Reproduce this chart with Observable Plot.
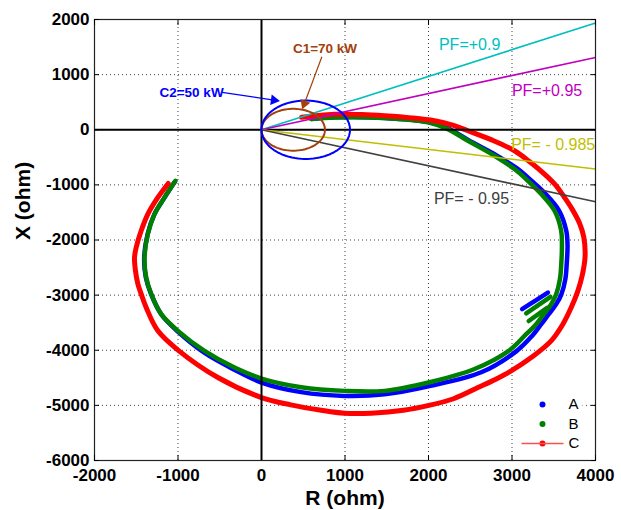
<!DOCTYPE html>
<html><head><meta charset="utf-8">
<script src="https://cdn.jsdelivr.net/npm/d3@7"></script>
<script src="https://cdn.jsdelivr.net/npm/@observablehq/plot@0.6"></script>
<style>html,body{margin:0;padding:0;background:#fff}</style>
</head><body><div id="chart"></div>
<script>
// ---- data ----
const xTicks = [-2000, -1000, 0, 1000, 2000, 3000, 4000];
const yTicks = [2000, 1000, 0, -1000, -2000, -3000, -4000, -5000, -6000];
const seriesNames = ["A", "B", "C"];
const seriesColors = ["#0000ff", "#008000", "#ff0000"];

// Series A (blue)
const aR = [-1040,-1165,-1285,-1365,-1405,-1385,-1320,-1195,-995,-690,-330,0,475,994,1473,2012,2631,3050,3240,3350,3440,3530,3590,3640,3655,3665,3650,3565,3400,3230,3060,2810,2480,2240,2000,1473,874,600];
const aX = [-950,-1240,-1540,-1900,-2320,-2680,-2990,-3360,-3670,-4040,-4350,-4586,-4760,-4828,-4800,-4650,-4400,-4020,-3740,-3527,-3345,-3164,-2990,-2700,-2437,-2100,-1833,-1470,-1160,-920,-700,-460,-190,20,140,215,225,195];
const aSpurR = [3121, 3300, 3430];
const aSpurX = [-3254, -3080, -2953];
// Series B (green)
const bR = [-1030,-1162,-1281,-1361,-1401,-1381,-1321,-1201,-1001,-683,-323,0,475,994,1473,2012,2551,2970,3170,3290,3380,3470,3530,3575,3590,3598,3589,3509,3350,3190,3030,2790,2472,2232,1993,1473,874,595];
const bX = [-926,-1228,-1530,-1893,-2317,-2680,-2978,-3345,-3648,-4011,-4314,-4513,-4670,-4737,-4737,-4580,-4340,-4000,-3708,-3527,-3345,-3164,-2980,-2700,-2437,-2100,-1833,-1470,-1167,-926,-713,-472,-200,12,133,212,223,194];
const bSpur1R = [3170, 3460], bSpur1X = [-3330, -3030];
const bSpur2R = [3200, 3420], bSpur2X = [-3470, -3230];
// Series C (red)
const cR = [-1117,-1241,-1361,-1441,-1501,-1521,-1510,-1480,-1441,-1381,-1241,-989,-522,0,350,715,994,1313,1700,2016,2300,2592,2800,2990,3230,3469,3609,3709,3789,3840,3875,3860,3810,3720,3629,3520,3389,3220,3030,2750,2472,2300,2072,1800,1473,1200,874,635,480];
const cX = [-974,-1228,-1530,-1833,-2136,-2320,-2550,-2800,-2978,-3225,-3648,-4011,-4495,-4858,-4990,-5088,-5142,-5142,-5090,-4996,-4880,-4677,-4530,-4374,-4132,-3829,-3527,-3225,-2922,-2650,-2300,-1950,-1700,-1440,-1229,-1000,-804,-590,-381,-180,-18,80,163,215,254,275,280,250,225];

// Power-factor lines (from origin to R = 4000)
const pfLabels = ["PF=+0.9", "PF=+0.95", "PF= - 0.985", "PF= - 0.95"];
const pfColors = ["#00bfbf", "#bf00bf", "#bfbf00", "#404040"];
const pfEndR = [4000, 4000, 4000, 4000];
const pfEndX = [1937, 1312, -713, -1307];

// Constant-power circles (centre on R axis, passing through origin)
const circleLabels = ["C1=70 kW", "C2=50 kW"];
const circleColors = ["#a3400c", "#0000ff"];
const circleCenterR = [380, 530];
const circleRadius = [380, 530];

// ---- build tables ----
function toRows(R, X, seg) { return R.map((r, i) => ({r, x: X[i], seg})); }
const aRows = [...toRows(aR, aX, "main"), ...toRows(aSpurR, aSpurX, "spur")];
const bRows = [...toRows(bR, bX, "main"), ...toRows(bSpur1R, bSpur1X, "s1"), ...toRows(bSpur2R, bSpur2X, "s2")];
const cRows = toRows(cR, cX, "main");
const pfRows = pfLabels.map((l, i) => ({label: l, color: pfColors[i], r0: 0, x0: 0, r1: pfEndR[i], x1: pfEndX[i]}));
const circleRows = circleLabels.flatMap((l, i) =>
  d3.range(0, 361, 4).map(a => ({
    name: l,
    r: circleCenterR[i] + circleRadius[i] * Math.cos(a * Math.PI / 180),
    x: circleRadius[i] * Math.sin(a * Math.PI / 180)
  })));

const lineSymbol = {draw(ctx) { ctx.moveTo(-21, 0); ctx.lineTo(21, 0); }};
const font = "'Liberation Sans', Arial, sans-serif";

const chart = Plot.plot({
  width: 621, height: 510,
  marginLeft: 94, marginRight: 26, marginTop: 19, marginBottom: 50,
  style: {fontFamily: font, background: "white", color: "black"},
  x: {domain: [-2000, 4000]},
  y: {domain: [-6000, 2000]},
  marks: [
    Plot.gridX(xTicks, {stroke: "#000", strokeOpacity: 0.75, strokeDasharray: "1,3"}),
    Plot.gridY(yTicks, {stroke: "#000", strokeOpacity: 0.75, strokeDasharray: "1,3"}),
    // legend background
    Plot.frame({fill: "white", stroke: "none", insetLeft: 419, insetRight: 13, insetTop: 374, insetBottom: 7}),
    // measured trajectories
    Plot.line(aRows, {x: "r", y: "x", z: "seg", stroke: seriesColors[0], strokeWidth: 4.5, curve: "catmull-rom"}),
    Plot.line(bRows, {x: "r", y: "x", z: "seg", stroke: seriesColors[1], strokeWidth: 4.5, curve: "catmull-rom"}),
    Plot.line(cRows, {x: "r", y: "x", z: "seg", stroke: seriesColors[2], strokeWidth: 5, curve: "catmull-rom"}),
    // axes through origin
    Plot.ruleX([0], {stroke: "#000", strokeWidth: 2}),
    Plot.ruleY([0], {stroke: "#000", strokeWidth: 2}),
    // PF lines
    ...pfRows.map(p => Plot.link([p], {x1: "r0", y1: "x0", x2: "r1", y2: "x1", stroke: p.color, strokeWidth: 1.6})),
    // circles
    ...circleLabels.map((l, i) => Plot.line(circleRows.filter(d => d.name === l), {x: "r", y: "x", stroke: circleColors[i], strokeWidth: 2})),
    // PF labels
    Plot.text([pfLabels[0]], {x: 2125, y: 1543, fill: pfColors[0], fontSize: 16, textAnchor: "start"}),
    Plot.text([pfLabels[1]], {x: 2999, y: 708, fill: pfColors[1], fontSize: 16, textAnchor: "start"}),
    Plot.text([pfLabels[2]], {x: 2990, y: -272, fill: pfColors[2], fontSize: 16, textAnchor: "start"}),
    Plot.text([pfLabels[3]], {x: 2065, y: -1258, fill: pfColors[3], fontSize: 16, textAnchor: "start"}),
    // circle labels and arrows
    Plot.text([circleLabels[0]], {x: 376, y: 1465, fill: circleColors[0], fontSize: 13.5, fontWeight: "bold", textAnchor: "start"}),
    Plot.text([circleLabels[1]], {x: -1222, y: 677, fill: circleColors[1], fontSize: 13.5, fontWeight: "bold", textAnchor: "start"}),
    Plot.link([0], {x1: 723, y1: 1325, x2: 513, y2: 473, stroke: circleColors[0], strokeWidth: 1.2}),
    Plot.link([0], {x1: -471, y1: 677, x2: 149, y2: 537, stroke: circleColors[1], strokeWidth: 1.2}),
    Plot.dot([0], {x: 513, y: 473, symbol: "triangle2", r: 5, fill: circleColors[0], rotate: 200.5}),
    Plot.dot([0], {x: 149, y: 537, symbol: "triangle2", r: 5, fill: circleColors[1], rotate: 98.5}),
    // frame
    Plot.frame({stroke: "#222", strokeWidth: 1.2}),
    // inward ticks
    Plot.axisX({ticks: xTicks, anchor: "bottom", tickSize: -5, tickFormat: () => "", label: null}),
    Plot.axisX({ticks: xTicks, anchor: "top", tickSize: -5, tickFormat: () => "", label: null}),
    Plot.axisY({ticks: yTicks, anchor: "left", tickSize: -5, tickFormat: () => "", label: null}),
    Plot.axisY({ticks: yTicks, anchor: "right", tickSize: -5, tickFormat: () => "", label: null}),
    // tick labels
    Plot.axisX({ticks: xTicks, anchor: "bottom", tickSize: 0, tickPadding: 8, tickFormat: d => String(d), fontSize: 17, fontWeight: "bold", label: null}),
    Plot.axisY({ticks: yTicks, anchor: "left", tickSize: 0, tickPadding: 5, tickFormat: d => String(d), fontSize: 17, fontWeight: "bold", label: null}),
    // axis titles
    Plot.text(["R (ohm)"], {frameAnchor: "bottom", lineAnchor: "middle", dy: 38, fontSize: 21, fontWeight: "bold"}),
    Plot.text(["X (ohm)"], {frameAnchor: "left", lineAnchor: "middle", dx: -71, rotate: -90, fontSize: 21, fontWeight: "bold"}),
    // legend
    ...seriesNames.map((s, i) => Plot.dot([s], {frameAnchor: "bottom-right", dx: -53, dy: -56 + 19.5 * i, fill: seriesColors[i], stroke: "none", r: 3})),
    Plot.dot([seriesNames[2]], {frameAnchor: "bottom-right", dx: -53, dy: -17, symbol: lineSymbol, stroke: "#ff5050", strokeWidth: 1.5}),
    ...seriesNames.map((s, i) => Plot.text([s], {frameAnchor: "bottom-right", lineAnchor: "middle", dx: -27, dy: -56 + 19.5 * i, fontSize: 15, textAnchor: "start"}))
  ]
});
document.getElementById("chart").append(chart);
</script>
</body></html>
